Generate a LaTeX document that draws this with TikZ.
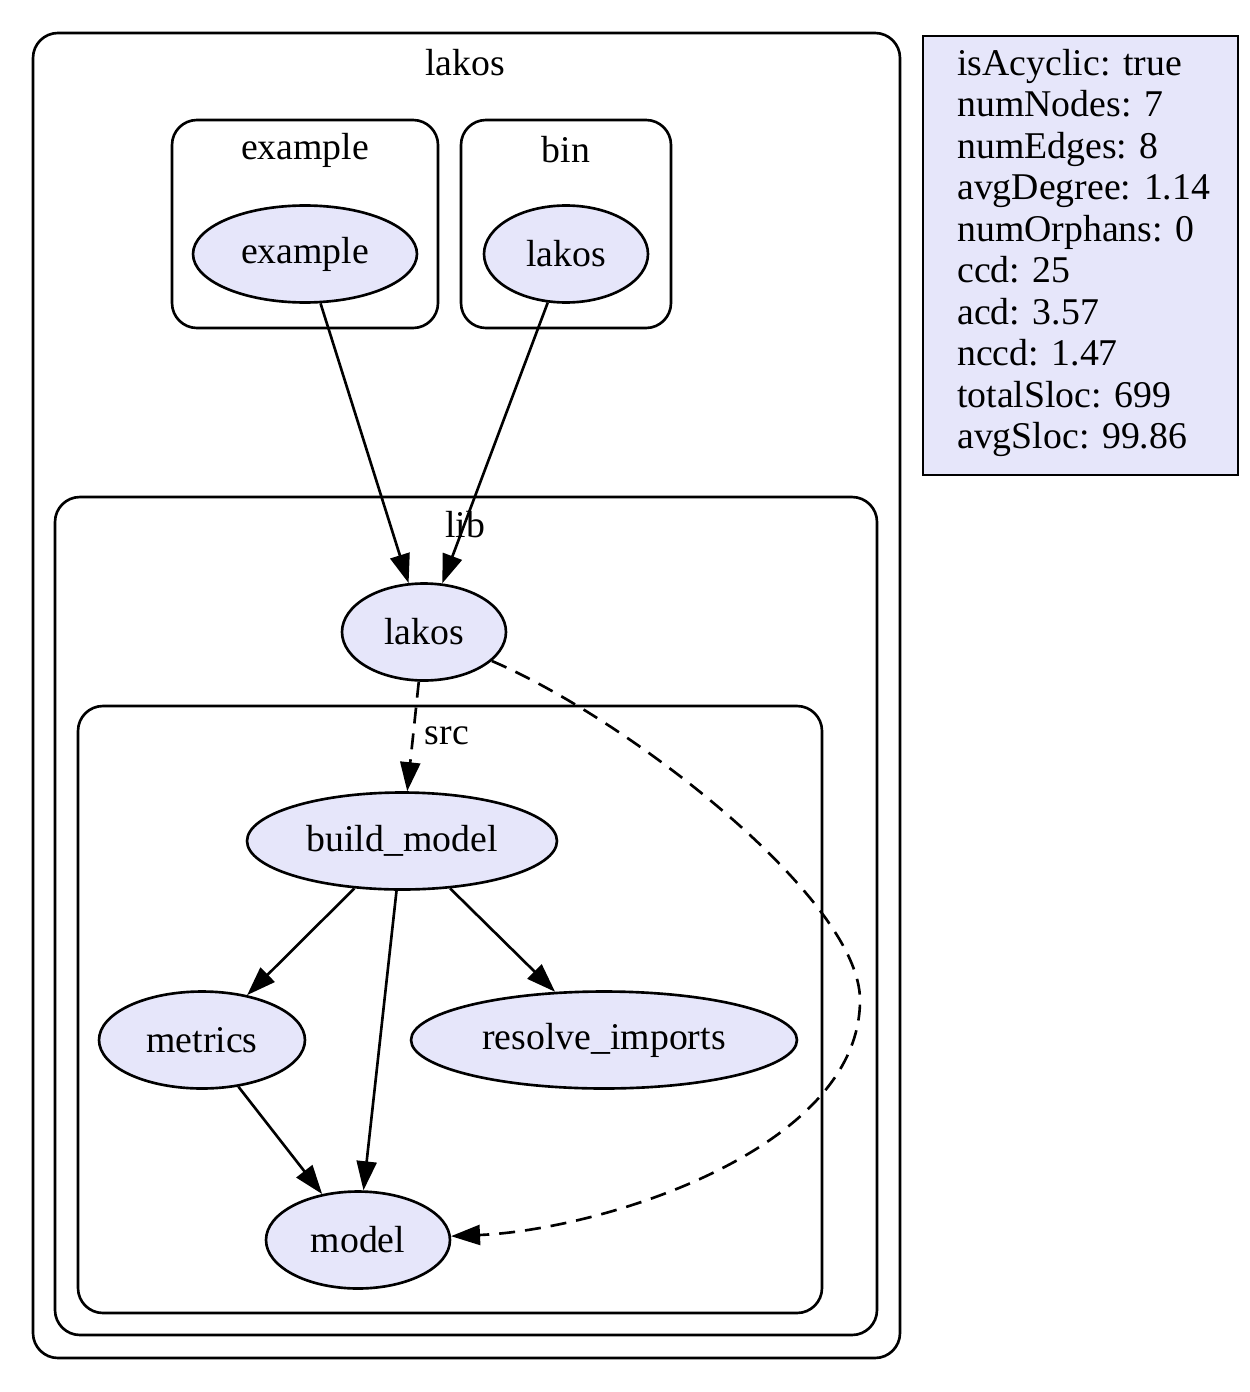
\documentclass[tikz,border=0pt]{standalone}
\usepackage{fontspec}
\setmainfont{Liberation Serif}
\usepackage{tikz}
\usetikzlibrary{shapes.geometric}
\usetikzlibrary{arrows.meta}
\definecolor{lavender}{RGB}{230,230,250}

\begin{document}
\begin{tikzpicture}[x=0.02cm, y=-0.02cm, line width=1.5pt,
  font=\fontsize{21.5}{23.6}\selectfont,
  cluster/.style={draw, rounded corners=0.5cm},
  mod/.style={ellipse, draw, fill=lavender, inner sep=0pt, minimum height=1.94cm},
  dep/.style={-{Triangle[length=0.58cm, width=0.4cm]}},
  lbl/.style={inner sep=0pt}]
\useasboundingbox (0,0) rectangle (1249,1392);

% clusters
\draw[cluster] (33,33) rectangle (900,1358);
\draw[cluster] (172,120) rectangle (438,328);
\draw[cluster] (461,120) rectangle (671,328);
\draw[cluster] (55,497) rectangle (877,1335);
\draw[cluster] (78,706) rectangle (822,1313);
\node[lbl] (lakoslbl) at (465,63) {lakos};
\node[lbl] (examplelbl) at (305,150) {example};
\node[lbl] (binlbl) at (566,150) {bin};
\node[lbl] (liblbl) at (465,525) {lib};
\node[lbl] (srclbl) at (447,736) {src};

% modules
\node[mod, minimum width=4.48cm] (example) at (305,254) {example};
\node[mod, minimum width=3.28cm] (binlakos) at (566,254) {lakos};
\node[mod, minimum width=3.28cm] (liblakos) at (424,632) {lakos};
\node[mod, minimum width=6.2cm] (buildmodel) at (402,841) {build\_model};
\node[mod, minimum width=4.12cm] (metrics) at (202,1040) {metrics};
\node[mod, minimum width=7.72cm] (resolve) at (604,1040) {resolve\_imports};
\node[mod, minimum width=3.68cm] (model) at (358,1240) {model};

% edges
\draw[dep] (example) -- (liblakos);
\draw[dep] (binlakos) -- (liblakos);
\draw[dep, dash pattern=on 0.32cm off 0.2cm] (liblakos) -- (buildmodel);
\draw[dep, dash pattern=on 0.32cm off 0.2cm] (liblakos) .. controls (630,720) and (860,900) .. (860,1000)
  .. controls (860,1150) and (600,1230) .. (model);
\draw[dep] (buildmodel) -- (metrics);
\draw[dep] (buildmodel) -- (model);
\draw[dep] (buildmodel) -- (resolve);
\draw[dep] (metrics) -- (model);

% legend
\draw[fill=lavender] (923,36) rectangle (1238,475);
\node[lbl, anchor=west, align=left] (stats) at (956,253) {isAcyclic: true\\numNodes: 7\\numEdges: 8\\avgDegree: 1.14\\numOrphans: 0\\ccd: 25\\acd: 3.57\\nccd: 1.47\\totalSloc: 699\\avgSloc: 99.86};
\end{tikzpicture}
\end{document}
